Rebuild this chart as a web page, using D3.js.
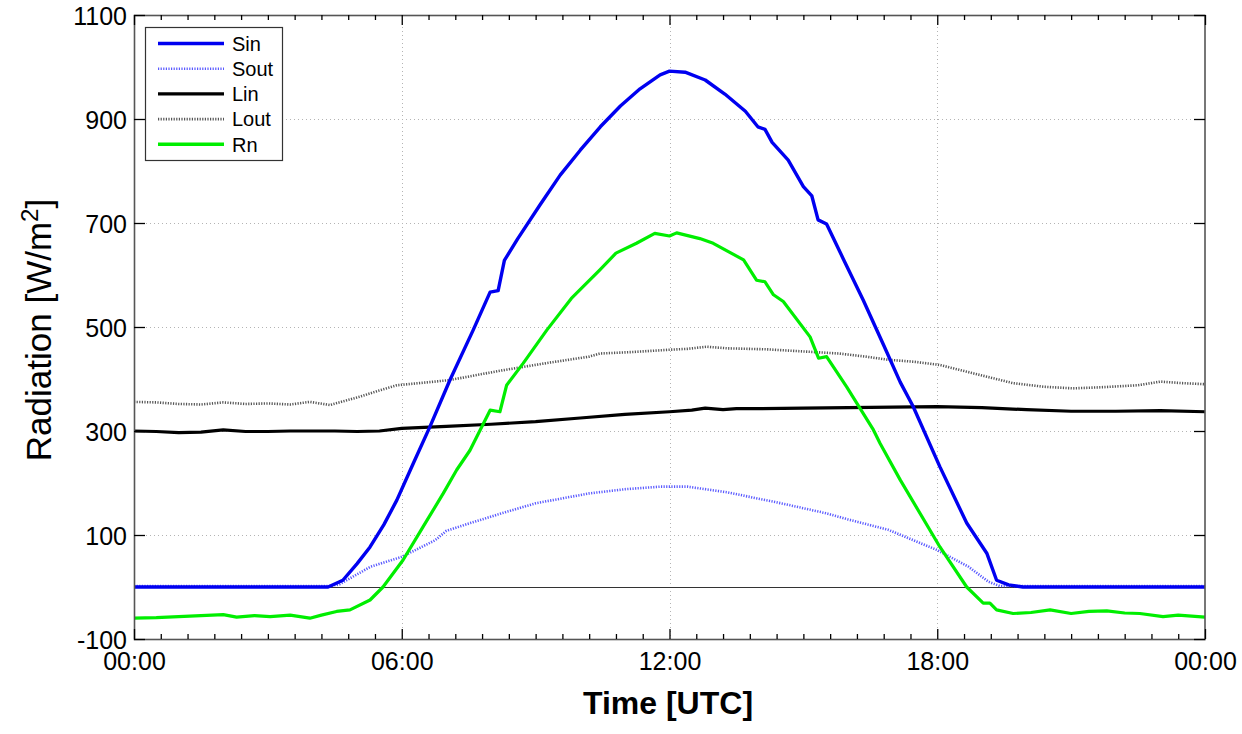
<!DOCTYPE html>
<html>
<head>
<meta charset="utf-8">
<script src="https://cdn.jsdelivr.net/npm/d3@7"></script>
<style>
  html, body { margin: 0; padding: 0; background: #ffffff; }
  svg { display: block; font-family: "Liberation Sans", Arial, sans-serif; }
</style>
</head>
<body>
<svg id="chart" width="1242" height="734"></svg>
<script>
// ---- data: [hour (UTC), W/m2] ----
const seriesNames = ["Sin", "Sout", "Lin", "Lout", "Rn"];

const sinData = [
  [0,0],[2,0],[4,0],[4.35,0],[4.68,13],[5.0,45],[5.29,77],[5.6,120],[5.89,167],[6.26,238],
  [6.63,308],[7.08,398],[7.6,494],[7.98,567],[8.16,570],[8.3,628],[8.6,670],[9.1,735],
  [9.55,792],[10.0,840],[10.45,885],[10.9,925],[11.34,958],[11.79,985],[12.0,992],
  [12.35,990],[12.8,975],[13.24,948],[13.7,915],[13.98,885],[14.14,880],[14.3,855],
  [14.66,821],[15.0,770],[15.19,752],[15.33,706],[15.52,698],[15.9,630],[16.34,552],
  [16.8,465],[17.17,394],[17.46,347],[18.06,231],[18.66,123],[19.11,65],[19.33,13],
  [19.6,4],[19.92,0],[22,0],[24,0]
];

const soutData = [
  [0,2],[2,2],[4,2],[4.4,2],[4.6,5],[5.3,39],[6.0,58],[6.75,90],[7.0,108],[7.5,122],
  [8.25,142],[9.0,161],[10.2,180],[11.0,188],[11.8,193],[12.4,193],[13.3,182],[14.5,161],
  [15.5,142],[16.0,130],[16.9,110],[18.0,71],[18.7,39],[19.15,10],[19.4,2],[22,2],[24,2]
];

const linData = [
  [0,300],[0.5,299],[1,297],[1.5,298],[2,302],[2.5,299],[3,299],[3.5,300],[4,300],
  [4.5,300],[5,299],[5.5,300],[6,305],[7,309],[8,313],[9,318],[10,325],[11,332],
  [12,337],[12.5,340],[12.8,344],[13.2,341],[13.5,343],[14,343],[15,344],[16,345],
  [17,346],[18,347],[19,345],[20,341],[21,338],[22,338],[23,339],[24,337]
];

const loutData = [
  [0,356],[0.5,355],[1,352],[1.5,351],[2,355],[2.5,352],[3,353],[3.5,351],[3.94,356],
  [4.39,350],[5.06,366],[5.5,378],[5.89,388],[6.5,393],[7.08,398],[7.7,408],[8.28,417],
  [9.2,430],[10.2,443],[10.44,449],[11.2,452],[11.94,456],[12.4,458],[12.83,462],
  [13.3,459],[14.2,457],[15.2,452],[15.8,449],[16.4,443],[16.9,437],[17.5,433],
  [18.06,427],[18.8,411],[19.7,392],[20.4,385],[21.04,382],[21.65,384],[22.5,388],
  [23,395],[23.5,392],[24,390]
];

const rnData = [
  [0,-60],[0.5,-59],[1,-57],[1.5,-55],[2,-53],[2.3,-58],[2.7,-55],[3.05,-57],[3.5,-54],
  [3.94,-60],[4.2,-54],[4.54,-47],[4.84,-44],[5.29,-25],[5.58,0],[6.03,52],[6.48,116],
  [6.93,180],[7.23,225],[7.53,263],[7.98,340],[8.2,337],[8.35,388],[8.72,430],[9.25,494],
  [9.8,555],[10.44,610],[10.8,642],[11.26,661],[11.67,680],[12.0,675],[12.16,681],
  [12.68,670],[12.98,661],[13.66,629],[13.95,590],[14.14,587],[14.33,562],[14.55,549],
  [15.15,481],[15.34,440],[15.52,443],[15.97,385],[16.57,302],[16.72,276],[17.17,206],
  [18.06,77],[18.66,0],[19.03,-31],[19.18,-31],[19.33,-44],[19.7,-51],[20.1,-49],
  [20.53,-44],[21.0,-51],[21.4,-47],[21.8,-46],[22.2,-50],[22.54,-51],[23.06,-57],
  [23.4,-54],[24,-58]
];

const xTickValues = [0, 6, 12, 18, 24];
const xTickLabels = ["00:00", "06:00", "12:00", "18:00", "00:00"];
const yTickValues = [-100, 100, 300, 500, 700, 900, 1100];
const yGridValues = [100, 300, 500, 700, 900];

// ---- layout ----
const svg = d3.select("#chart");
const m = { left: 134, right: 1205, top: 15, bottom: 639 };
const x = d3.scaleLinear().domain([0, 24]).range([m.left, m.right]);
const y = d3.scaleLinear().domain([-100, 1100]).range([m.bottom, m.top]);

svg.append("rect").attr("width", 1242).attr("height", 734).attr("fill", "#ffffff");

// grid
const grid = svg.append("g").attr("stroke", "#b4b4b4").attr("stroke-width", 1)
  .attr("stroke-dasharray", "1,3").attr("shape-rendering", "crispEdges");
grid.selectAll("line.gx").data([6, 12, 18]).join("line")
  .attr("x1", d => Math.round(x(d)) + 0.5).attr("x2", d => Math.round(x(d)) + 0.5)
  .attr("y1", m.top).attr("y2", m.bottom);
grid.selectAll("line.gy").data(yGridValues).join("line")
  .attr("y1", d => Math.round(y(d)) + 0.5).attr("y2", d => Math.round(y(d)) + 0.5)
  .attr("x1", m.left).attr("x2", m.right);

// zero line
svg.append("line").attr("x1", m.left).attr("x2", m.right)
  .attr("y1", Math.round(y(0)) + 0.5).attr("y2", Math.round(y(0)) + 0.5)
  .attr("stroke", "#333").attr("stroke-width", 1.2);

// series
const line = d3.line().x(d => x(d[0])).y(d => y(d[1]));
const styles = [
  { data: loutData, color: "#555555", width: 2.6, dash: "1.2,1.4" },
  { data: linData,  color: "#000000", width: 3.2, dash: null },
  { data: soutData, color: "#5a5aff", width: 2.6, dash: "1.2,1.4" },
  { data: rnData,   color: "#00ee00", width: 3.2, dash: null },
  { data: sinData,  color: "#0000f0", width: 3.4, dash: null }
];
styles.forEach(s => {
  svg.append("path").datum(s.data).attr("d", line)
    .attr("fill", "none").attr("stroke", s.color).attr("stroke-width", s.width)
    .attr("stroke-linejoin", "round")
    .attr("stroke-dasharray", s.dash);
});

// axes box
svg.append("rect").attr("x", m.left + 0.5).attr("y", m.top + 0.5)
  .attr("width", m.right - m.left - 1 + 0.5).attr("height", m.bottom - m.top)
  .attr("fill", "none").attr("stroke", "#555").attr("stroke-width", 1.6);

// ticks (inward) via d3 axes
const minorX = d3.range(0, 24.001, 0.6).filter(v => !xTickValues.some(t => Math.abs(t - v) < 1e-6));
function tickGroup(axisFn, transform) {
  const g = svg.append("g").attr("transform", transform).call(axisFn);
  g.select(".domain").remove();
  g.selectAll("line").attr("stroke", "#000").attr("stroke-width", 1.3);
  return g;
}
// bottom major with labels
const gxb = tickGroup(d3.axisTop(x).tickValues(xTickValues).tickSize(10)
  .tickFormat((d, i) => xTickLabels[i]), `translate(0,${m.bottom})`);
gxb.selectAll("text").attr("y", 31).attr("dy", 0)
  .attr("font-size", 25).attr("fill", "#000")
  .attr("font-family", '"Liberation Sans", Arial, sans-serif');
// bottom minor
tickGroup(d3.axisTop(x).tickValues(minorX).tickSize(5).tickFormat(""), `translate(0,${m.bottom})`);
// top major + minor
tickGroup(d3.axisBottom(x).tickValues(xTickValues).tickSize(10).tickFormat(""), `translate(0,${m.top})`);
tickGroup(d3.axisBottom(x).tickValues(minorX).tickSize(5).tickFormat(""), `translate(0,${m.top})`);
// left with labels
const gyl = tickGroup(d3.axisRight(y).tickValues(yTickValues).tickSize(11)
  .tickFormat(d => String(d)), `translate(${m.left},0)`);
gyl.selectAll("text").attr("x", -7).attr("text-anchor", "end").attr("dy", "0.36em")
  .attr("font-size", 25).attr("fill", "#000")
  .attr("font-family", '"Liberation Sans", Arial, sans-serif');
// right
tickGroup(d3.axisLeft(y).tickValues(yTickValues).tickSize(11).tickFormat(""), `translate(${m.right},0)`);

// axis titles
svg.append("text").attr("x", 668).attr("y", 714).attr("text-anchor", "middle")
  .attr("font-size", 32).attr("font-weight", "bold").attr("fill", "#000")
  .text("Time [UTC]");
const yl = svg.append("text").attr("transform", "translate(51,330) rotate(-90)")
  .attr("text-anchor", "middle").attr("font-size", 35).attr("fill", "#000");
yl.append("tspan").text("Radiation [W/m");
yl.append("tspan").attr("baseline-shift", "super").attr("font-size", 24).text("2");
yl.append("tspan").text("]");

// legend
const lg = svg.append("g");
lg.append("rect").attr("x", 145.5).attr("y", 27.5).attr("width", 137).attr("height", 133)
  .attr("fill", "#fff").attr("stroke", "#333").attr("stroke-width", 1.2);
const legendStyles = [
  { color: "#0000f0", width: 3.4, dash: null },
  { color: "#5a5aff", width: 2.6, dash: "1.2,1.4" },
  { color: "#000000", width: 3.4, dash: null },
  { color: "#555555", width: 2.6, dash: "1.2,1.4" },
  { color: "#00ee00", width: 3.4, dash: null }
];
seriesNames.forEach((name, i) => {
  const cy = 43.5 + i * 25.2;
  const st = legendStyles[i];
  lg.append("line").attr("x1", 158).attr("x2", 224).attr("y1", cy).attr("y2", cy)
    .attr("stroke", st.color).attr("stroke-width", st.width).attr("stroke-dasharray", st.dash);
  lg.append("text").attr("x", 232).attr("y", cy).attr("dy", "0.36em")
    .attr("font-size", 20).attr("fill", "#000").text(name);
});
</script>
</body>
</html>
